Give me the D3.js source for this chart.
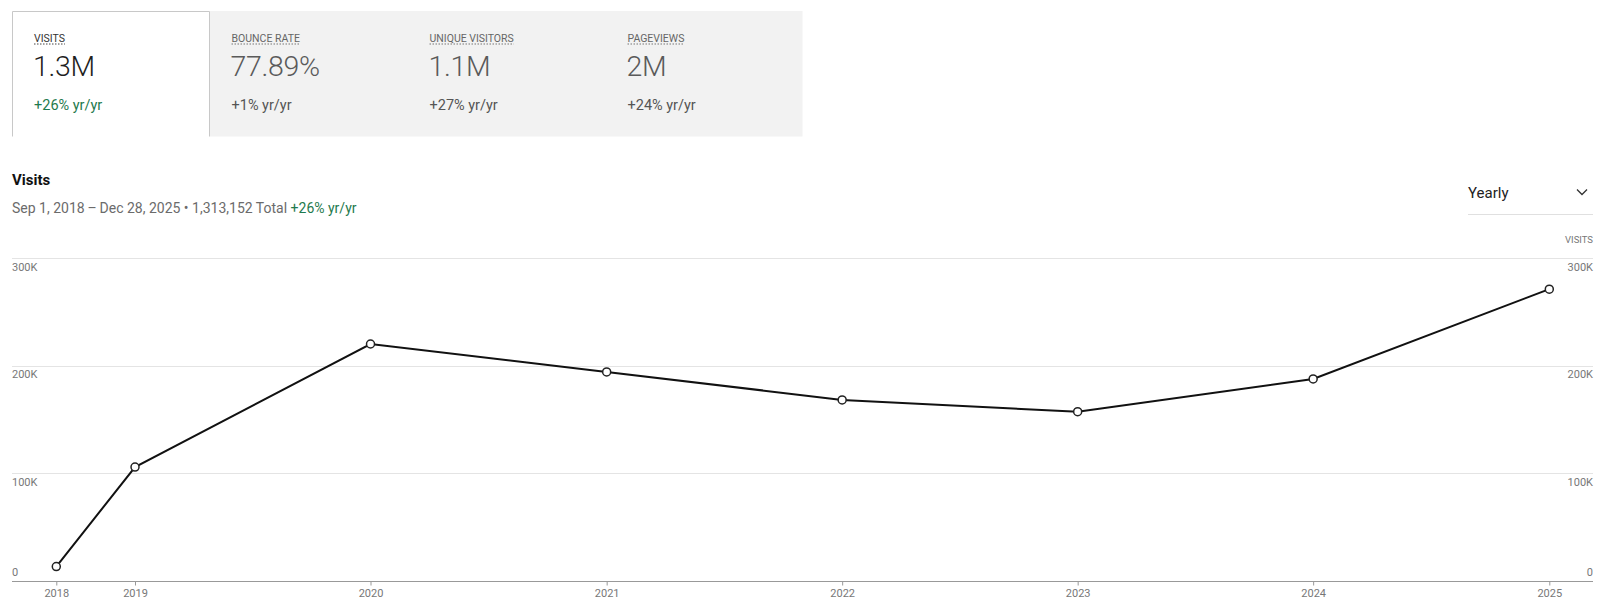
<!DOCTYPE html>
<html>
<head>
<meta charset="utf-8">
<script src="https://cdn.jsdelivr.net/npm/d3@7"></script>
<style>
html,body{margin:0;padding:0;background:#fff;}
svg{display:block;font-family:Roboto,"Liberation Sans",sans-serif;}
</style>
</head>
<body>
<svg id="chart" width="1611" height="612"></svg>
<script>
// ---- data ----
const dates = ["2018-09-01","2019-01-01","2020-01-01","2021-01-01","2022-01-01","2023-01-01","2024-01-01","2025-01-01"];
const tickLabels = ["2018","2019","2020","2021","2022","2023","2024","2025"];
const visits = [13000,105500,220000,194000,168000,157000,187500,271000];
const yTicks = [0,100000,200000,300000];
const yTickLabels = ["0","100K","200K","300K"];
const metricNames = ["VISITS","BOUNCE RATE","UNIQUE VISITORS","PAGEVIEWS"];
const metricValues = ["1.3M","77.89%","1.1M","2M"];
const metricChanges = ["+26% yr/yr","+1% yr/yr","+27% yr/yr","+24% yr/yr"];

const svg = d3.select("#chart");
const green = "#1f7a4e";

// ---- metric cards ----
svg.append("rect").attr("x",209.5).attr("y",11).attr("width",593).attr("height",125.5).attr("fill","#f2f2f2");
svg.append("path").attr("d","M12.5,136.5V11.5H209.5V136.5").attr("fill","#fff").attr("stroke","#c8c8c8").attr("stroke-width",1);
const cardX = [34,231.5,429.5,627.5];
metricNames.forEach((n,i)=>{
  const sel = i===0;
  const t = svg.append("text").attr("x",cardX[i]).attr("y",41.5).attr("font-size",10.5)
    .attr("fill",sel?"#333":"#666").text(n);
  const w = t.node().getComputedTextLength();
  svg.append("line").attr("x1",cardX[i]).attr("x2",cardX[i]+w).attr("y1",44).attr("y2",44)
    .attr("stroke",sel?"#444":"#777").attr("stroke-width",1).attr("stroke-dasharray","1.5,1.5");
  svg.append("text").attr("x",cardX[i]-1).attr("y",76).attr("font-size",28.5).attr("font-weight",300)
    .attr("fill",sel?"#1f1f1f":"#5a5a5a").attr("letter-spacing",-0.3).text(metricValues[i]);
  svg.append("text").attr("x",cardX[i]).attr("y",110).attr("font-size",14.5)
    .attr("fill",sel?green:"#555").text(metricChanges[i]);
});

// ---- title ----
svg.append("text").attr("x",12).attr("y",185).attr("font-size",15).attr("font-weight",700).attr("fill","#111").text("Visits");
const sub = svg.append("text").attr("x",12).attr("y",213).attr("font-size",14).attr("fill","#6b6b6b");
sub.append("tspan").text("Sep 1, 2018\u2009\u2013\u2009Dec 28, 2025 \u2022 1,313,152 Total ");
sub.append("tspan").attr("fill",green).text("+26% yr/yr");

// dropdown
svg.append("text").attr("x",1468).attr("y",197.5).attr("font-size",15).attr("fill","#222").text("Yearly");
svg.append("path").attr("d","M1577,189.5L1582,194.5L1587,189.5").attr("fill","none").attr("stroke","#333").attr("stroke-width",1.3);
svg.append("line").attr("x1",1468).attr("x2",1593).attr("y1",214.5).attr("y2",214.5).attr("stroke","#e0e0e0");
svg.append("text").attr("x",1593).attr("y",243).attr("text-anchor","end").attr("font-size",9.5).attr("fill","#777").text("VISITS");

// ---- scales ----
const parse = d3.timeParse("%Y-%m-%d");
const xDates = dates.map(parse);
const x = d3.scaleTime().domain([xDates[0], xDates[xDates.length-1]]).range([56.3,1549.3]);
const y = d3.scaleLinear().domain([0,300000]).range([580.5,258]);
const left = 12, right = 1593;

// gridlines
svg.append("g").selectAll("line").data(yTicks.filter(d=>d>0)).join("line")
  .attr("x1",left).attr("x2",right).attr("y1",d=>Math.round(y(d))+0.5).attr("y2",d=>Math.round(y(d))+0.5)
  .attr("stroke","#e4e4e4").attr("stroke-width",1);

// y labels left & right
yTicks.forEach((d,i)=>{
  const yy = d===0 ? y(d)-4.5 : y(d)+12.5;
  svg.append("text").attr("x",left).attr("y",yy).attr("font-size",11).attr("fill","#777").text(yTickLabels[i]);
  svg.append("text").attr("x",right).attr("y",yy).attr("text-anchor","end").attr("font-size",11).attr("fill","#777").text(yTickLabels[i]);
});

// x axis
const xAxis = d3.axisBottom(x).tickValues(xDates).tickFormat((d,i)=>tickLabels[i]).tickSize(4).tickSizeOuter(0);
const gx = svg.append("g").attr("transform",`translate(0,${Math.round(y(0))+0.5})`).call(xAxis);
gx.select(".domain").remove();
gx.selectAll(".tick line").attr("stroke","#999");
gx.selectAll(".tick text").attr("font-family","Roboto,sans-serif").attr("font-size",11).attr("fill","#777").attr("dy","0.85em").attr("y",6);
svg.append("line").attr("x1",left).attr("x2",right).attr("y1",Math.round(y(0))+0.5).attr("y2",Math.round(y(0))+0.5)
  .attr("stroke","#999").attr("stroke-width",1.2);

// line
const pts = xDates.map((d,i)=>({d, v:visits[i]}));
svg.append("path").datum(pts)
  .attr("d",d3.line().x(p=>x(p.d)).y(p=>y(p.v)))
  .attr("fill","none").attr("stroke","#111").attr("stroke-width",2);
svg.append("g").selectAll("circle").data(pts).join("circle")
  .attr("cx",p=>x(p.d)).attr("cy",p=>y(p.v)).attr("r",4)
  .attr("fill","#fff").attr("stroke","#222").attr("stroke-width",1.5);
</script>
</body>
</html>
